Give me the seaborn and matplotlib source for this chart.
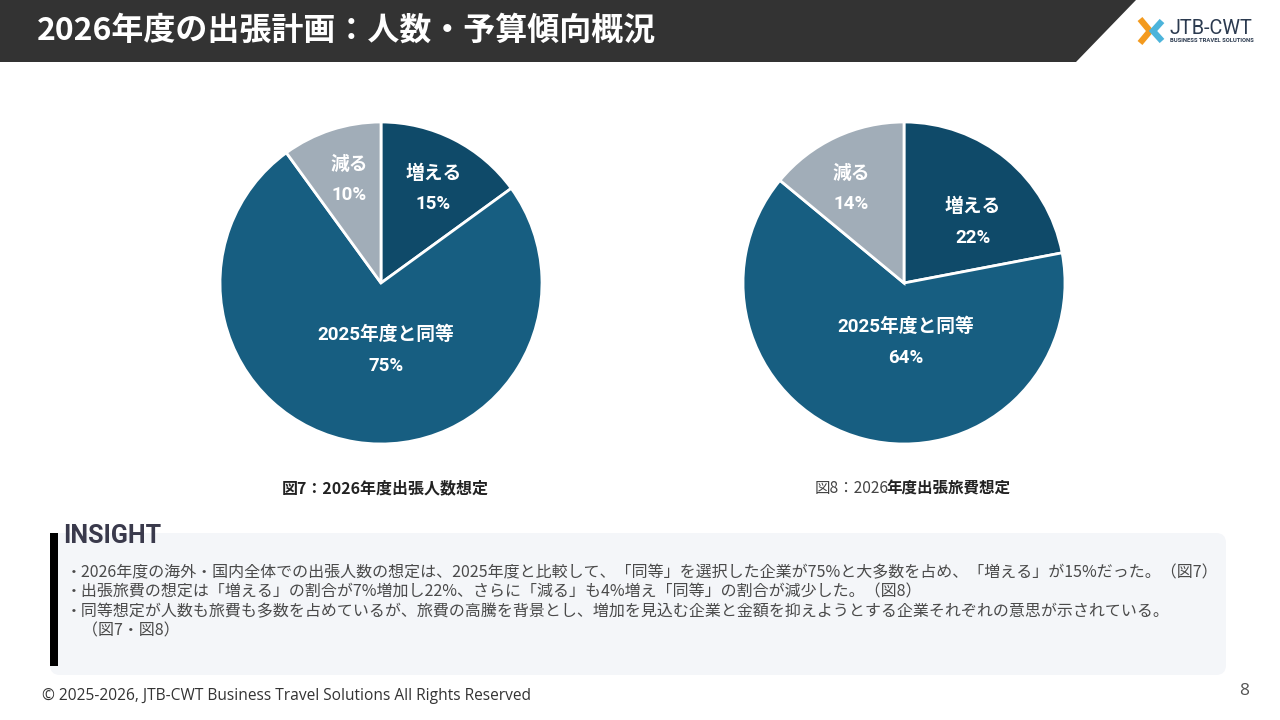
import numpy as np
import matplotlib
matplotlib.use("Agg")
import matplotlib.pyplot as plt
import seaborn as sns
from matplotlib.patches import Polygon, Rectangle, FancyBboxPatch

# ---------------- data ----------------
categories = ["増える", "2025年度と同等", "減る"]
headcount_pct = [15, 75, 10]
budget_pct = [22, 64, 14]
caption_left = "図7：2026年度出張人数想定"
caption_right_a = "図8：2026"
caption_right_b = "年度出張旅費想定"
title = "2026年度の出張計画：人数・予算傾向概況"
insight_lines = [
    "・2026年度の海外・国内全体での出張人数の想定は、2025年度と比較して、「同等」を選択した企業が75%と大多数を占め、「増える」が15%だった。（図7）",
    "・出張旅費の想定は「増える」の割合が7%増加し22%、さらに「減る」も4%増え「同等」の割合が減少した。（図8）",
    "・同等想定が人数も旅費も多数を占めているが、旅費の高騰を背景とし、増加を見込む企業と金額を抑えようとする企業それぞれの意思が示されている。",
    "　（図7・図8）",
]
footer = "© 2025-2026, JTB-CWT Business Travel Solutions All Rights Reserved"
page_no = "8"

# ---------------- style ----------------
sns.set_theme(style="white")
plt.rcParams["font.family"] = ["Noto Sans CJK JP", "DejaVu Sans"]
slice_colors = ["#0f4a69", "#175e81", "#a1adb8"]
label_family = ["Roboto", "Noto Sans CJK JP", "DejaVu Sans"]

W, H = 1280, 720
fig = plt.figure(figsize=(12.8, 7.2), dpi=100)
fig.patch.set_facecolor("white")

bg = fig.add_axes([0, 0, 1, 1])
bg.set_xlim(0, W)
bg.set_ylim(H, 0)
bg.axis("off")

# header bar
bg.add_patch(Polygon([(0, 0), (1136, 0), (1076, 62), (0, 62)], closed=True,
                     facecolor="#333333", edgecolor="none"))
bg.text(37, 31, title, color="white", fontsize=23, fontweight="bold",
        va="center", ha="left")

# logo
bg.plot([1140, 1150, 1140], [19, 31, 43], color="#f39a1e", lw=4.5,
        solid_joinstyle="miter", solid_capstyle="butt")
bg.plot([1162, 1153, 1162], [21, 31, 41], color="#4cb4db", lw=4.5,
        solid_joinstyle="miter", solid_capstyle="butt")
bg.text(1169, 28.5, "JTB-CWT", color="#2b3a4f", fontsize=14.3,
        family=["Roboto", "DejaVu Sans"], va="center", ha="left")
bg.text(1170, 40, "BUSINESS TRAVEL SOLUTIONS", color="#2b3a4f", fontsize=4.2,
        family=["Roboto", "DejaVu Sans"], fontweight="bold", va="center", ha="left")


def draw_pie(cx, cy, r, values, label_r, label_dtheta):
    ax = fig.add_axes([(cx - r) / W, (H - cy - r) / H, 2 * r / W, 2 * r / H])
    wedges, _ = ax.pie(values, startangle=90, counterclock=False,
                       colors=slice_colors, radius=1,
                       wedgeprops=dict(edgecolor="white", linewidth=2))
    ax.set_xlim(-1, 1)
    ax.set_ylim(-1, 1)
    ax.axis("off")
    for w, cat, v, lr, dt in zip(wedges, categories, values, label_r, label_dtheta):
        mid = np.deg2rad((w.theta1 + w.theta2) / 2 + dt)
        ax.text(lr * np.cos(mid), lr * np.sin(mid), f"{cat}\n{v}%",
                ha="center", va="center", color="white", fontsize=13.5,
                fontweight="bold", linespacing=1.9, family=label_family)
    return ax


draw_pie(381, 283, 161, headcount_pct, [0.67, 0.42, 0.67], [-2, 13, -1])
draw_pie(904, 283, 161, budget_pct, [0.57, 0.37, 0.67], [-9, 16, 4])

# captions
bg.text(385, 488, caption_left, ha="center", va="center", fontsize=11.5,
        fontweight="bold", color="#222222")
t1 = bg.text(815, 489, caption_right_a, ha="left", va="center", fontsize=11.2,
             color="#444444")
bg.annotate(caption_right_b, xy=(1, 0.5), xycoords=t1, xytext=(-2, 0),
            textcoords="offset points", va="center", ha="left",
            fontsize=11.2, fontweight="bold", color="#222222")

# insight box
bg.add_patch(FancyBboxPatch((56, 539), 1164, 130,
                            boxstyle="round,pad=6,rounding_size=10",
                            facecolor="#f4f6f9", edgecolor="none"))
bg.add_patch(Rectangle((50, 533), 8, 133, facecolor="black", edgecolor="none"))
bg.text(63, 536, "INSIGHT", fontsize=18, fontweight="bold", color="#3a3a4c",
        family=["Roboto", "DejaVu Sans"], va="center", ha="left")
for i, line in enumerate(insight_lines):
    bg.text(66, 573 + i * 19.3, line, fontsize=11.5, color="#4a4a4a",
            va="center", ha="left")

# footer
bg.text(42, 696, footer, fontsize=11.2, color="#333333",
        family=["Open Sans", "DejaVu Sans"], va="center", ha="left")
bg.text(1244, 691, page_no, fontsize=12.5, color="#555555",
        family=["Open Sans", "DejaVu Sans"], va="center", ha="center")

fig.savefig("out.png", dpi=100, facecolor="white")
